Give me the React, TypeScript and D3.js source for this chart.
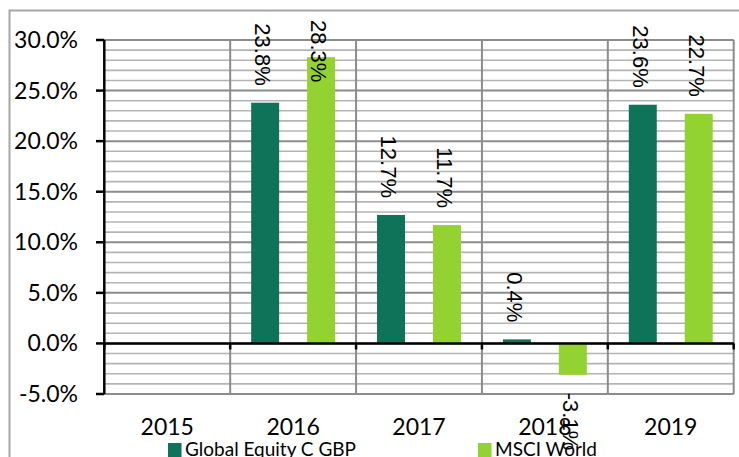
import React from 'react'
import * as d3 from 'd3'

const years = ['2015', '2016', '2017', '2018', '2019']
const seriesNames = ['Global Equity C GBP', 'MSCI World']
const fundValues = [null, 23.8, 12.7, 0.4, 23.6]
const indexValues = [null, 28.3, 11.7, -3.1, 22.7]
const seriesColors = ['#0e7358', '#92d332']
const yTicks = [-5, 0, 5, 10, 15, 20, 25, 30]

const width = 739
const height = 457

const App = () => {
  const x = d3.scaleBand().domain(years).range([104.3, 733.7]).padding(0)
  const inner = d3
    .scaleBand()
    .domain(seriesNames)
    .range([0, x.bandwidth()])
    .paddingInner(0.5)
    .paddingOuter(0.375)
  const y = d3.scaleLinear().domain([-5, 30]).range([394, 40])

  const minor = d3.range(-5, 31, 1).filter((v) => v % 5 !== 0)
  const boundaries = years.map((d) => x(d)).concat([x.range()[1]])

  const series = [fundValues, indexValues]
  const labelLen = 57 // rough length of a rotated label, used to keep it inside the chart

  return (
    <svg
      width={width}
      height={height}
      style={{ position: 'absolute', left: 0, top: 0, background: '#fff' }}
    >
      {/* chart border */}
      <path d={`M9.5,${height} V10.5 H${width}`} fill="none" stroke="#a6a6a6" strokeWidth={2} />

      {/* gridlines */}
      {minor.map((v) => (
        <line key={'m' + v} x1={x.range()[0]} x2={x.range()[1]} y1={y(v)} y2={y(v)} stroke="#b4b4b4" strokeWidth={1.6} />
      ))}
      {yTicks.map((v) => (
        <line key={'g' + v} x1={x.range()[0]} x2={x.range()[1]} y1={y(v)} y2={y(v)} stroke="#8c8c8c" strokeWidth={2} />
      ))}
      {boundaries.slice(1).map((bx, i) => (
        <line key={'v' + i} x1={bx} x2={bx} y1={y(30)} y2={y(-5)} stroke="#8c8c8c" strokeWidth={2} />
      ))}

      {/* bars */}
      {series.map((vals, si) =>
        vals.map((v, i) =>
          v === null ? null : (
            <rect
              key={si + '-' + i}
              x={(x(years[i]) as number) + (inner(seriesNames[si]) as number)}
              width={inner.bandwidth()}
              y={y(Math.max(0, v))}
              height={Math.abs(y(v) - y(0))}
              fill={seriesColors[si]}
            />
          )
        )
      )}

      {/* axes */}
      <line x1={x.range()[0]} x2={x.range()[0]} y1={y(30)} y2={y(-5)} stroke="#000" strokeWidth={2.5} />
      {yTicks.map((v) => (
        <line key={'t' + v} x1={96} x2={x.range()[0]} y1={y(v)} y2={y(v)} stroke="#000" strokeWidth={2.5} />
      ))}
      <line x1={x.range()[0]} x2={x.range()[1]} y1={y(0)} y2={y(0)} stroke="#000" strokeWidth={2.5} />
      {boundaries.map((bx, i) => (
        <line key={'xt' + i} x1={bx} x2={bx} y1={y(0)} y2={y(0) + 6} stroke="#000" strokeWidth={2.5} />
      ))}

      {/* y tick labels */}
      {yTicks.map((v) => (
        <text key={'yl' + v} x={78} y={y(v) + 8} textAnchor="end" fontFamily="Lato" fontSize={23} fill="#000">
          {v.toFixed(1) + '%'}
        </text>
      ))}

      {/* category labels */}
      {years.map((d) => (
        <text key={d} x={(x(d) as number) + x.bandwidth() / 2} y={435} textAnchor="middle" fontFamily="Lato" fontSize={23} fill="#000">
          {d}
        </text>
      ))}

      {/* data labels */}
      {series.map((vals, si) =>
        vals.map((v, i) => {
          if (v === null) return null
          const cx = (x(years[i]) as number) + (inner(seriesNames[si]) as number) + inner.bandwidth() / 2 - 2.5
          let anchor = v >= 0 ? 'end' : 'start'
          let cy = v >= 0 ? y(v) - 17 : y(v) + 18
          if (v >= 0 && cy - labelLen < 20) {
            anchor = 'start'
            cy = 20
          }
          return (
            <text
              key={'dl' + si + i}
              transform={`translate(${cx},${cy}) rotate(90)`}
              textAnchor={anchor}
              dominantBaseline="central"
              fontFamily="Liberation Sans"
              fontSize={22}
              fill="#000"
            >
              {v.toFixed(1) + '%'}
            </text>
          )
        })
      )}

      {/* legend */}
      {seriesNames.map((name, si) => {
        const lx = si === 0 ? 168 : 478
        return (
          <g key={name}>
            <rect x={lx} y={443} width={13.5} height={14} fill={seriesColors[si]} />
            <text x={lx + 17} y={455.5} fontFamily="Lato" fontSize={19} fill="#000">
              {name}
            </text>
          </g>
        )
      })}
    </svg>
  )
}

export default App
